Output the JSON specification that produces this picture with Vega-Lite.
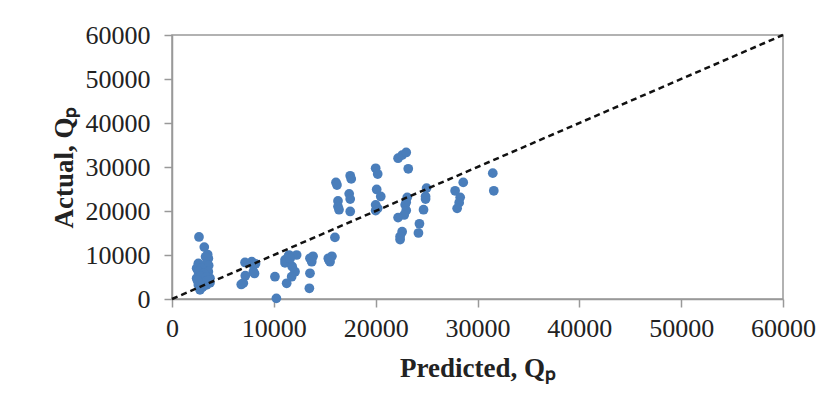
{
  "$schema": "https://vega.github.io/schema/vega-lite/v6.json",
  "width": 611,
  "height": 264,
  "autosize": {"type": "none"},
  "padding": {"left": 172, "top": 35, "right": 53, "bottom": 113},
  "background": "white",
  "config": {
    "view": {"stroke": "#999999", "strokeWidth": 1.5},
    "font": "Liberation Serif",
    "axis": {
      "domainColor": "#999999",
      "domainWidth": 1.5,
      "tickColor": "#999999",
      "tickWidth": 1.5,
      "tickSize": 8,
      "grid": false,
      "labelFont": "Liberation Serif",
      "labelFontSize": 26,
      "labelColor": "#222222",
      "titleFont": "Liberation Serif",
      "titleFontSize": 27,
      "titleFontWeight": "bold",
      "titleColor": "#222222"
    }
  },
  "datasets": {
    "pts": [
      {"pred": 2650, "act": 14100}, {"pred": 3170, "act": 11800}, {"pred": 3500, "act": 10100}, {"pred": 3570, "act": 9200},
      {"pred": 3300, "act": 9600}, {"pred": 2590, "act": 8100}, {"pred": 3240, "act": 7700}, {"pred": 3600, "act": 7600},
      {"pred": 2420, "act": 7000}, {"pred": 2900, "act": 7000}, {"pred": 2590, "act": 6200}, {"pred": 3570, "act": 6200},
      {"pred": 3100, "act": 5800}, {"pred": 2420, "act": 4700}, {"pred": 3070, "act": 4300}, {"pred": 3730, "act": 4700},
      {"pred": 2800, "act": 5200}, {"pred": 3400, "act": 5000}, {"pred": 2590, "act": 3200}, {"pred": 3400, "act": 3200},
      {"pred": 3730, "act": 3700}, {"pred": 2750, "act": 2100}, {"pred": 3000, "act": 2700}, {"pred": 3300, "act": 4000},
      {"pred": 2500, "act": 4200}, {"pred": 3600, "act": 4300},
      {"pred": 7170, "act": 8300}, {"pred": 7830, "act": 8500}, {"pred": 7990, "act": 6200}, {"pred": 7200, "act": 5300},
      {"pred": 7000, "act": 3600}, {"pred": 6800, "act": 3300}, {"pred": 7990, "act": 7700}, {"pred": 8100, "act": 5800},
      {"pred": 8200, "act": 8000},
      {"pred": 10110, "act": 5070}, {"pred": 10250, "act": 150},
      {"pred": 11100, "act": 8900}, {"pred": 11420, "act": 9600}, {"pred": 12240, "act": 10000}, {"pred": 11500, "act": 10000},
      {"pred": 12080, "act": 6200}, {"pred": 11750, "act": 5070}, {"pred": 11260, "act": 3570}, {"pred": 11100, "act": 8200},
      {"pred": 11800, "act": 7400}, {"pred": 11600, "act": 9200},
      {"pred": 13550, "act": 9250}, {"pred": 13550, "act": 5840}, {"pred": 13490, "act": 2430}, {"pred": 13720, "act": 8480},
      {"pred": 13850, "act": 9700}, {"pred": 13700, "act": 8900},
      {"pred": 15350, "act": 9250}, {"pred": 15520, "act": 8480}, {"pred": 15700, "act": 9700}, {"pred": 15400, "act": 8900},
      {"pred": 16000, "act": 14000},
      {"pred": 16100, "act": 26500}, {"pred": 16200, "act": 25900}, {"pred": 16300, "act": 22300}, {"pred": 16300, "act": 21000},
      {"pred": 16400, "act": 20300},
      {"pred": 17500, "act": 28000}, {"pred": 17600, "act": 27300}, {"pred": 17400, "act": 23900}, {"pred": 17500, "act": 22700},
      {"pred": 17500, "act": 19900},
      {"pred": 20000, "act": 29700}, {"pred": 20200, "act": 28400}, {"pred": 20100, "act": 24900}, {"pred": 20500, "act": 23300},
      {"pred": 20000, "act": 21400}, {"pred": 20000, "act": 20100}, {"pred": 20200, "act": 20600},
      {"pred": 22200, "act": 32000}, {"pred": 22600, "act": 32700}, {"pred": 23000, "act": 33300}, {"pred": 23200, "act": 29600},
      {"pred": 23100, "act": 23100}, {"pred": 22900, "act": 21400}, {"pred": 23000, "act": 20100}, {"pred": 22800, "act": 19100},
      {"pred": 22200, "act": 18500}, {"pred": 22600, "act": 15300}, {"pred": 22400, "act": 13500}, {"pred": 22400, "act": 14200},
      {"pred": 23000, "act": 22000},
      {"pred": 25000, "act": 25200}, {"pred": 24900, "act": 22700}, {"pred": 24900, "act": 23300}, {"pred": 24700, "act": 20300},
      {"pred": 24300, "act": 17100}, {"pred": 24200, "act": 15000},
      {"pred": 27800, "act": 24600}, {"pred": 28600, "act": 26500}, {"pred": 28300, "act": 23100}, {"pred": 28200, "act": 21900},
      {"pred": 28000, "act": 20600},
      {"pred": 31500, "act": 28600}, {"pred": 31600, "act": 24600}
    ],
    "diag": [
      {"pred": 0, "act": 0},
      {"pred": 60000, "act": 60000}
    ]
  },
  "layer": [
    {
      "data": {"name": "pts"},
      "mark": {"type": "circle", "size": 95, "color": "#4A7EBB", "opacity": 1},
      "encoding": {
        "x": {
          "field": "pred", "type": "quantitative",
          "scale": {"domain": [0, 60000], "nice": false},
          "axis": {"values": [0, 10000, 20000, 30000, 40000, 50000, 60000], "format": "d", "title": "Predicted, Qₚ", "labelPadding": 8, "titlePadding": 14, "labelFlush": false}
        },
        "y": {
          "field": "act", "type": "quantitative",
          "scale": {"domain": [0, 60000], "nice": false},
          "axis": {"values": [0, 10000, 20000, 30000, 40000, 50000, 60000], "format": "d", "title": "Actual, Qₚ", "labelPadding": 14, "titlePadding": 7}
        }
      }
    },
    {
      "data": {"name": "diag"},
      "mark": {"type": "line", "color": "#111111", "strokeWidth": 2.5, "strokeDash": [6, 4]},
      "encoding": {
        "x": {"field": "pred", "type": "quantitative"},
        "y": {"field": "act", "type": "quantitative"}
      }
    }
  ]
}
